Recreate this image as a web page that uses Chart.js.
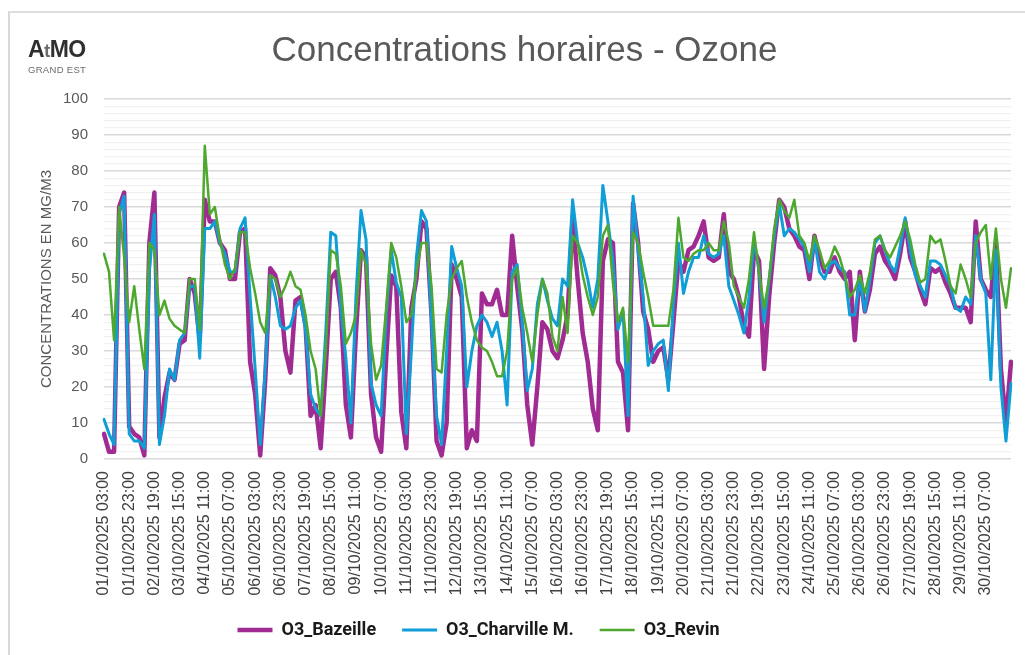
<!DOCTYPE html>
<html>
<head>
<meta charset="utf-8">
<script src="https://cdn.jsdelivr.net/npm/chart.js@4.4.1/dist/chart.umd.min.js"></script>
<style>
  html, body { margin: 0; padding: 0; background: #ffffff; overflow: hidden; }
  #wrap { position: relative; width: 1025px; height: 655px; overflow: hidden; }
  #frame { position: absolute; left: 8px; top: 11px; width: 1100px; height: 700px;
           border-left: 2px solid #d9d9d9; border-top: 2px solid #dedede; pointer-events: none; }
  #logo { position: absolute; left: 28px; top: 37px; font-family: 'Liberation Sans', Arial, sans-serif; }
  #logo .main { font-size: 23px; font-weight: bold; color: #2f2f2f; line-height: 24px; letter-spacing: -0.6px; }
  #logo .main .t { color: #6d6d6d; font-size: 19px; }
  #logo .sub { font-size: 9.5px; color: #6a6a6a; line-height: 11px; letter-spacing: 0.3px; margin-top: 1px; }
  canvas { position: absolute; left: 0; top: 0; }
</style>
</head>
<body>
<div id="wrap">
  <canvas id="c" width="1025" height="655"></canvas>
  <div id="frame"></div>
  <div id="logo"><div class="main">A<span class="t">t</span>MO</div><div class="sub">GRAND EST</div></div>
</div>
<script>
// ---- Data (4-hour samples from 01/10/2025 03:00 to 31/10/2025 03:00) ----
const startLabel = "01/10/2025 03:00";
const stepHours = 4;

const bazeille = [
  7, 2, 2, 70, 74, 9,
  7, 6, 1, 60, 74, 6,
  17, 24, 22, 32, 33, 50,
  46, 33, 72, 66, 66, 60,
  58, 50, 50, 63, 64, 27,
  18, 1, 22, 53, 51, 45,
  30, 24, 44, 45, 37, 12,
  15, 3, 25, 50, 52, 42,
  15, 6, 35, 58, 56, 18,
  6, 2, 28, 51, 48, 13,
  3, 42, 50, 66, 64, 40,
  5, 1, 10, 54, 50, 45,
  3, 8, 5, 46, 43, 43,
  47, 40, 40, 62, 48, 36,
  15, 4, 20, 38, 36, 30,
  28, 33, 40, 67, 50, 35,
  27, 14, 8, 55, 61, 60,
  27, 24, 8, 71, 60, 41,
  36, 27, 30, 31, 22, 38,
  55, 52, 58, 59, 62, 66,
  56, 55, 56, 68, 52, 50,
  45, 37, 34, 58, 55, 25,
  45, 60, 72, 70, 64, 62,
  59, 58, 50, 62, 56, 52,
  52, 56, 52, 50, 52, 33,
  52, 41, 47, 57, 59, 55,
  53, 50, 57, 66, 56, 52,
  47, 43, 53, 52, 53, 49,
  46, 42, 42, 42, 38, 66,
  50, 47, 45, 60, 25, 10,
  27
];

const charleville = [
  11, 7, 4, 68, 73, 7,
  5, 5, 3, 52, 68, 4,
  12, 25, 22, 33, 35, 48,
  48, 28, 64, 64, 66, 60,
  57, 52, 52, 64, 67, 45,
  25, 4, 25, 51, 45, 37,
  36, 37, 42, 44, 36, 18,
  14, 12, 35, 63, 62, 42,
  28, 10, 45, 69, 61, 21,
  15, 12, 40, 58, 49, 45,
  7, 30, 56, 69, 66, 38,
  12, 4, 30, 59, 53, 48,
  20, 30, 37, 40, 38, 34,
  38, 30, 15, 52, 54, 38,
  19, 25, 43, 50, 44, 39,
  37, 50, 48, 72, 60, 56,
  50, 42, 50, 76, 66, 55,
  36, 41, 12, 73, 58, 45,
  26, 30, 32, 33, 19, 43,
  60, 46, 52, 56, 56, 62,
  57, 56, 57, 62, 48, 44,
  40, 35, 45, 61, 52, 38,
  50, 62, 71, 62, 64, 63,
  61, 59, 52, 61, 52, 50,
  54, 55, 53, 52, 40, 40,
  50, 41, 50, 60, 62, 58,
  54, 52, 59, 67, 58, 51,
  48, 45, 55, 55, 54, 51,
  48, 42, 41, 45, 43, 62,
  50, 46, 22, 58, 20, 5,
  21
];

const revin = [
  57, 52, 33, 70, 56, 38,
  48, 36, 25, 60, 58, 40,
  44, 39, 37, 36, 35, 50,
  50, 36, 87, 68, 70, 61,
  54, 50, 53, 63, 63, 53,
  46, 38, 35, 51, 50, 45,
  48, 52, 48, 47, 40, 30,
  25, 12, 30, 58, 57, 48,
  32, 35, 40, 58, 54, 32,
  22, 26, 42, 60, 56, 48,
  38, 40, 52, 60, 60, 48,
  25, 24, 40, 50, 53, 55,
  45, 38, 33, 31, 30, 27,
  23, 23, 30, 50, 53, 42,
  35, 27, 40, 50, 46, 34,
  30, 45, 35, 62, 60, 51,
  45, 40, 45, 62, 65, 49,
  38, 42, 27, 63, 60, 52,
  45, 37, 37, 37, 37, 47,
  67, 56, 55, 57, 58, 58,
  60, 58, 58, 66, 60, 48,
  45, 42, 50, 63, 52, 42,
  50, 64, 72, 69, 67, 72,
  62, 60, 55, 62, 58, 53,
  55, 59, 56, 51, 45, 47,
  51, 46, 52, 61, 62, 58,
  56, 59, 62, 66, 61, 54,
  49, 50, 62, 60, 61, 55,
  48, 46, 54, 50, 45, 60,
  63, 65, 50, 64, 50, 42,
  53
];

const seriesNames = ["O3_Bazeille", "O3_Charville M.", "O3_Revin"];
const yTicks = [0, 10, 20, 30, 40, 50, 60, 70, 80, 90, 100];

// ---- Category labels (timestamps) ----
function pad(n) { return String(n).padStart(2, "0"); }
const categories = [];
{
  const p = startLabel.split(/[\/ :]/);
  const d0 = new Date(Date.UTC(+p[2], +p[1] - 1, +p[0], +p[3], +p[4]));
  for (let i = 0; i < bazeille.length; i++) {
    const d = new Date(d0.getTime() + i * stepHours * 3600000);
    categories.push(pad(d.getUTCDate()) + "/" + pad(d.getUTCMonth() + 1) + "/" + d.getUTCFullYear() +
      " " + pad(d.getUTCHours()) + ":" + pad(d.getUTCMinutes()));
  }
}
const labelEvery = 20 / stepHours;

const FONT = "'Liberation Sans', Arial, sans-serif";

const legendShift = {
  id: "legendShift",
  afterLayout(chart) {
    const lg = chart.legend;
    if (lg) { lg.left -= 46; lg.right -= 46; }
  }
};

new Chart(document.getElementById("c"), {
  type: "line",
  data: {
    labels: categories,
    datasets: [
      { label: seriesNames[0], data: bazeille, borderColor: "#A02B93", backgroundColor: "#A02B93",
        borderWidth: 4.5, order: 2 },
      { label: seriesNames[1], data: charleville, borderColor: "#0F9ED5", backgroundColor: "#0F9ED5",
        borderWidth: 3, order: 1 },
      { label: seriesNames[2], data: revin, borderColor: "#4EA72E", backgroundColor: "#4EA72E",
        borderWidth: 2.5, order: 0 }
    ]
  },
  plugins: [legendShift],
  options: {
    responsive: false,
    animation: false,
    layout: { padding: { left: 38, right: 14, top: 0, bottom: 6 } },
    elements: {
      point: { radius: 0, hoverRadius: 0 },
      line: { tension: 0, fill: false, borderJoinStyle: "round", borderCapStyle: "round" }
    },
    plugins: {
      title: {
        display: true,
        text: "Concentrations horaires - Ozone",
        color: "#595959",
        font: { family: FONT, size: 35, weight: "normal" },
        padding: { top: 30, bottom: 27 }
      },
      legend: {
        position: "bottom",
        labels: {
          usePointStyle: true,
          pointStyle: "line",
          pointStyleWidth: 35,
          color: "#1a1a1a",
          padding: 26,
          font: { family: "Roboto, 'Liberation Sans', sans-serif", size: 18, weight: "bold" },
          sort: (a, b) => a.datasetIndex - b.datasetIndex
        }
      },
      tooltip: { enabled: false }
    },
    scales: {
      x: {
        type: "category",
        offset: false,
        grid: { display: false, drawTicks: false },
        border: { display: false },
        afterFit: (s) => { s.height = 136; s.paddingLeft = 0; s.paddingRight = 0; },
        ticks: {
          autoSkip: false,
          maxRotation: 90,
          minRotation: 90,
          padding: 12,
          color: "#404040",
          font: { family: FONT, size: 16 },
          callback: function (value, index) {
            return (index % labelEvery === 0 && index < categories.length - 1) ? this.getLabelForValue(value) : "";
          }
        }
      },
      y: {
        min: 0,
        max: 100,
        afterFit: (s) => { s.width = 66; },
        border: { display: false },
        grid: {
          drawTicks: false,
          color: (ctx) => (yTicks.includes(ctx.tick && ctx.tick.value) ? "#d9d9d9" : "#f1f1f1"),
          lineWidth: (ctx) => (yTicks.includes(ctx.tick && ctx.tick.value) ? 1.6 : 1.2)
        },
        ticks: {
          stepSize: 2,
          autoSkip: false,
          padding: 16,
          color: "#595959",
          font: { family: FONT, size: 15 },
          callback: (v) => (yTicks.includes(v) ? String(v) : "")
        },
        title: {
          display: true,
          text: "CONCENTRATIONS EN MG/M3",
          color: "#595959",
          font: { family: FONT, size: 15 },
          padding: { top: 0, bottom: 0 }
        }
      }
    }
  }
});
</script>
</body>
</html>
